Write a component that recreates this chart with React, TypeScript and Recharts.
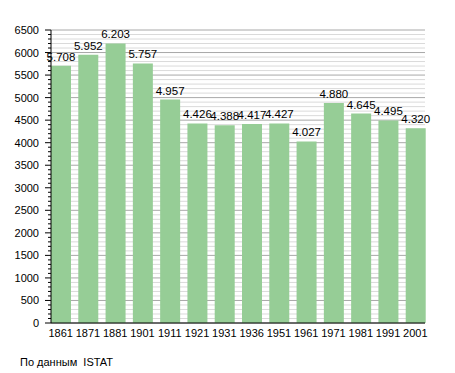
import React from 'react';
import { BarChart, Bar, XAxis, YAxis, CartesianGrid, LabelList } from 'recharts';

const years = ['1861', '1871', '1881', '1901', '1911', '1921', '1931', '1936', '1951', '1961', '1971', '1981', '1991', '2001'];
const population = [5708, 5952, 6203, 5757, 4957, 4426, 4388, 4417, 4427, 4027, 4880, 4645, 4495, 4320];
const yTicks = Array.from({ length: 66 }, (_, i) => i * 100);

const data = years.map((year, i) => ({ year, value: population[i] }));

const FONT = '"Liberation Sans", Arial, sans-serif';

const formatValue = (v: any) => {
  const n = Number(v);
  return n >= 1000 ? `${Math.floor(n / 1000)}.${String(n % 1000).padStart(3, '0')}` : String(n);
};

const YTick = (props: any) => {
  const { x, y, payload } = props;
  const major = payload.value % 500 === 0;
  return (
    <g>
      <line x1={x - (major ? 6 : 3)} x2={x} y1={y} y2={y} stroke="#000" strokeWidth={1} />
      {major && (
        <text x={x - 12} y={y} dy={4} textAnchor="end" fontSize={11} fontFamily={FONT} fill="#000">
          {payload.value}
        </text>
      )}
    </g>
  );
};

const GridLine = (props: any) => {
  const { x1, x2, y1, y2, index } = props;
  const major = typeof index === 'number' ? index % 5 === 0 : false;
  return <line x1={x1} x2={x2} y1={y1} y2={y2} stroke={major ? '#a8a8a8' : '#dadada'} strokeWidth={1} />;
};

export default function App() {
  return (
    <div style={{ position: 'absolute', left: 0, top: 0, width: 455, height: 373, background: '#fff' }}>
      <BarChart
        width={455}
        height={373}
        data={data}
        margin={{ top: 30, right: 30, bottom: 30, left: 0 }}
        barSize={20}
      >
        <CartesianGrid vertical={false} horizontal={GridLine} />
        <XAxis
          dataKey="year"
          height={20}
          padding={{ left: -4, right: -4 }}
          axisLine={{ stroke: '#000' }}
          tickLine={false}
          tick={{ fill: '#000', fontSize: 11, fontFamily: FONT }}
          tickMargin={0}
          interval={0}
        />
        <YAxis
          width={51}
          domain={[0, 6500]}
          ticks={yTicks}
          interval={0}
          axisLine={{ stroke: '#000' }}
          tickLine={false}
          tickSize={0}
          tickMargin={0}
          tick={<YTick />}
        />
        <Bar dataKey="value" fill="#96cd96" isAnimationActive={false}>
          <LabelList
            dataKey="value"
            position="top"
            offset={5}
            formatter={formatValue}
            style={{ fill: '#000', fontSize: 11.5, fontFamily: FONT }}
          />
        </Bar>
      </BarChart>
      <div style={{ position: 'absolute', left: 20, top: 356, fontSize: 11, fontFamily: FONT, color: '#000', whiteSpace: 'pre' }}>
        По данным  ISTAT
      </div>
    </div>
  );
}
